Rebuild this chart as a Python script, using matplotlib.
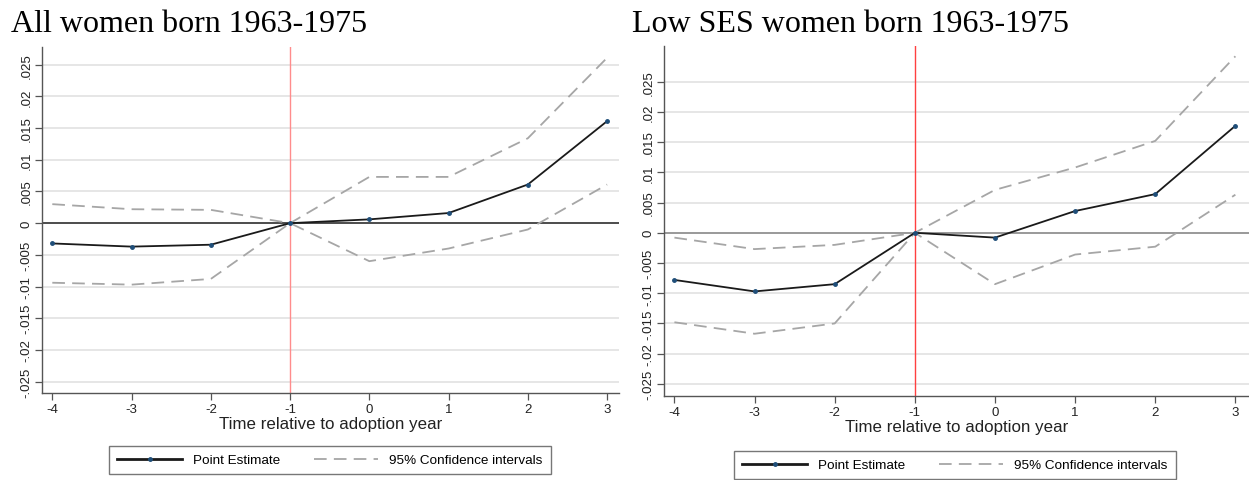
import numpy as np
import matplotlib.pyplot as plt
from matplotlib.lines import Line2D

# event time relative to adoption
years = [-4, -3, -2, -1, 0, 1, 2, 3]

# all women born 1963-1975
all_est = [-0.0032, -0.0037, -0.0034, 0.0, 0.0006, 0.0016, 0.0061, 0.0161]
all_hi = [0.0030, 0.0022, 0.0021, 0.0, 0.0073, 0.0073, 0.0134, 0.0261]
all_lo = [-0.0094, -0.0097, -0.0088, 0.0, -0.0060, -0.0040, -0.0010, 0.0061]

# low SES women born 1963-1975
low_est = [-0.0078, -0.0097, -0.0085, 0.0, -0.0008, 0.0036, 0.0064, 0.0177]
low_hi = [-0.0008, -0.0027, -0.0020, 0.0, 0.0071, 0.0108, 0.0152, 0.0292]
low_lo = [-0.0148, -0.0167, -0.0150, 0.0, -0.0085, -0.0036, -0.0023, 0.0063]

yticks = [-0.025, -0.02, -0.015, -0.01, -0.005, 0, 0.005, 0.01, 0.015, 0.02, 0.025]
ytick_labels = ['-.025', '-.02', '-.015', '-.01', '-.005', '0', '.005', '.01', '.015', '.02', '.025']

W, H = 1249, 481
fig = plt.figure(figsize=(W / 100, H / 100), dpi=100)


def px_axes(x0, x1, ytop, ybot):
    return fig.add_axes([x0 / W, (H - ybot) / H, (x1 - x0) / W, (ybot - ytop) / H])


def draw(ax, est, hi, lo, ylim, zero_col, red_col):
    ax.set_xlim(-4.13, 3.15)
    ax.set_ylim(*ylim)
    ax.set_yticks(yticks)
    ax.set_yticklabels(ytick_labels, rotation=90, va='center', fontsize=9.5,
                       family='Liberation Sans', color='#222222')
    ax.set_xticks(years)
    ax.set_xticklabels([str(y) for y in years], fontsize=9.5, family='Liberation Sans', color='#222222')
    ax.yaxis.grid(True, color='#e6e6e6', lw=1.4)
    ax.set_axisbelow(True)
    for s in ['top', 'right']:
        ax.spines[s].set_visible(False)
    for s in ['left', 'bottom']:
        ax.spines[s].set_color('#555555')
        ax.spines[s].set_linewidth(1.0)
    ax.tick_params(length=5, width=0.9, color='#555555', pad=2)
    ax.axhline(0, color=zero_col, lw=1.2, zorder=2)
    ax.axvline(-1, color=red_col, lw=1.0, zorder=2)
    ax.plot(years, hi, color='#a6a6a6', lw=1.3, dashes=(7, 4), zorder=3)
    ax.plot(years, lo, color='#a6a6a6', lw=1.3, dashes=(7, 4), zorder=3)
    ax.plot(years, est, color='#1a1a1a', lw=1.3, marker='o', ms=2.5,
            mfc='#1f4e79', mec='#1f4e79', zorder=4)
    ax.set_xlabel('Time relative to adoption year', fontsize=12.2, family='Liberation Sans',
                  color='#222222', labelpad=1)


ax1 = px_axes(42, 619, 48, 394)
draw(ax1, all_est, all_hi, all_lo, (-0.0268, 0.0278), '#333333', '#ff8c8c')
ax2 = px_axes(664, 1249, 47, 397)
draw(ax2, low_est, low_hi, low_lo, (-0.0270, 0.0309), '#8c8c8c', '#ff4040')
ax2.set_xlim(-4.13, 3.17)

fig.text(11 / W, 1 - 32 / H, 'All women born 1963-1975', fontsize=23, family='Liberation Serif')
fig.text(632 / W, 1 - 32 / H, 'Low SES women born 1963-1975', fontsize=23, family='Liberation Serif')

handles = [
    Line2D([], [], color='#1a1a1a', lw=2, marker='o', ms=2.5, mfc='#1f4e79', mec='#1f4e79'),
    Line2D([], [], color='#a6a6a6', lw=1.3, dashes=(7, 4)),
]
labels = ['Point Estimate', '95% Confidence intervals']
for cx, cy in [(330, 461), (955, 466)]:
    leg = fig.legend(handles, labels, loc='center', bbox_to_anchor=(cx / W, 1 - cy / H),
                     ncol=2, frameon=True, fancybox=False, handlelength=4.8,
                     columnspacing=2.5, borderpad=0.6, prop={'family': 'Liberation Sans', 'size': 9.7})
    leg.get_frame().set_edgecolor('#555555')
    leg.get_frame().set_linewidth(1.0)

plt.savefig('out.png', dpi=100)
